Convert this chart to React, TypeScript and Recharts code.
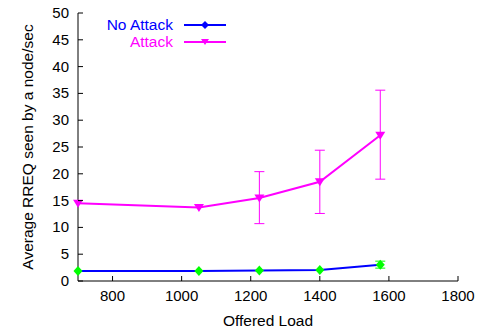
import { ComposedChart, Line, XAxis, YAxis, ErrorBar, Legend, Label } from "recharts";

const loads = [700, 1050, 1225, 1400, 1575];
const noAttack = [1.85, 1.85, 1.95, 2.05, 3.05];
const noAttackLow = [null, null, null, null, 2.4];
const noAttackHigh = [null, null, null, null, 3.7];
const attack = [14.5, 13.7, 15.5, 18.5, 27.2];
const attackLow = [null, null, 10.7, 12.6, 19.0];
const attackHigh = [null, null, 20.4, 24.4, 35.6];
const xTicks = [800, 1000, 1200, 1400, 1600, 1800];
const yTicks = [0, 5, 10, 15, 20, 25, 30, 35, 40, 45, 50];

const err = (v: number, lo: number | null, hi: number | null) =>
  lo == null || hi == null ? undefined : [v - lo, hi - v];

const data = loads.map((load, i) => ({
  load,
  noAttack: noAttack[i],
  noAttackErr: err(noAttack[i], noAttackLow[i], noAttackHigh[i]),
  attack: attack[i],
  attackErr: err(attack[i], attackLow[i], attackHigh[i]),
}));

const FONT = "'Liberation Sans', Arial, sans-serif";

const LeftTick = (p: any) => (
  <g>
    <line x1={p.x} x2={p.x + 5} y1={p.y} y2={p.y} stroke="#000" />
    <text x={p.x - 9} y={p.y} dy={5} textAnchor="end" fontSize={15} fill="#000" fontFamily={FONT}>
      {p.payload.value}
    </text>
  </g>
);
const RightTick = (p: any) => <line x1={p.x} x2={p.x - 5} y1={p.y} y2={p.y} stroke="#000" />;
const BottomTick = (p: any) => (
  <g>
    <line x1={p.x} x2={p.x} y1={p.y} y2={p.y - 5} stroke="#000" />
    <text x={p.x} y={p.y} dy={20} textAnchor="middle" fontSize={15} fill="#000" fontFamily={FONT}>
      {p.payload.value}
    </text>
  </g>
);
const TopTick = (p: any) => <line x1={p.x} x2={p.x} y1={p.y} y2={p.y + 5} stroke="#000" />;

const Diamond = (p: any) => {
  const { cx, cy } = p;
  if (cx == null || cy == null) return null;
  return <path d={`M${cx},${cy - 5}L${cx + 4.5},${cy}L${cx},${cy + 5}L${cx - 4.5},${cy}Z`} fill="#00ff00" />;
};
const TriDown = (p: any) => {
  const { cx, cy } = p;
  if (cx == null || cy == null) return null;
  return <path d={`M${cx - 5},${cy - 3.5}L${cx + 5},${cy - 3.5}L${cx},${cy + 4.5}Z`} fill="#ff00ff" />;
};

const LegendBox = () => (
  <svg width={160} height={50} style={{ overflow: "visible" }}>
    <text x={95} y={30} textAnchor="end" fontSize={15.5} fill="#0000ff" fontFamily={FONT}>No Attack</text>
    <line x1={106} x2={148} y1={25} y2={25} stroke="#0000ff" strokeWidth={2} />
    <path d="M127,21L131,25L127,29L123,25Z" fill="#0000ff" />
    <text x={95} y={47} textAnchor="end" fontSize={15.5} fill="#ff00ff" fontFamily={FONT}>Attack</text>
    <line x1={106} x2={148} y1={42} y2={42} stroke="#ff00ff" strokeWidth={2} />
    <path d="M123,39L131,39L127,45Z" fill="#ff00ff" />
  </svg>
);

const YLabel = (p: any) => {
  const vb = p.viewBox;
  const cy = vb.y + vb.height / 2;
  const cx = 33;
  return (
    <text x={cx} y={cy} transform={`rotate(-90 ${cx} ${cy})`} textAnchor="middle" fontSize={15.5} fill="#000" fontFamily={FONT}>
      Average RREQ seen by a node/sec
    </text>
  );
};

export default function App() {
  return (
    <div style={{ position: "absolute", left: 0, top: 0, background: "#fff" }}>
      <ComposedChart width={482} height={330} data={data} margin={{ top: 13, right: 24, bottom: 0, left: 0 }}>
        <XAxis
          dataKey="load"
          type="number"
          domain={[700, 1800]}
          ticks={xTicks}
          height={49}
          tickSize={0}
          tickMargin={0}
          tickLine={false}
          tick={BottomTick}
          axisLine={{ stroke: "#000" }}
          interval={0}
        >
          <Label value="Offered Load" position="insideBottom" offset={4} fontSize={15.5} fill="#000" fontFamily={FONT} />
        </XAxis>
        <XAxis
          xAxisId="top"
          dataKey="load"
          type="number"
          orientation="top"
          domain={[700, 1800]}
          ticks={xTicks}
          height={0}
          tickSize={0}
          tickMargin={0}
          tickLine={false}
          tick={TopTick}
          axisLine={{ stroke: "#000" }}
          interval={0}
        />
        <YAxis
          type="number"
          domain={[0, 50]}
          ticks={yTicks}
          width={78}
          tickSize={0}
          tickMargin={0}
          tickLine={false}
          tick={LeftTick}
          axisLine={{ stroke: "#000" }}
          interval={0}
        >
          <Label content={YLabel} />
        </YAxis>
        <YAxis
          yAxisId="right"
          orientation="right"
          type="number"
          domain={[0, 50]}
          ticks={yTicks}
          width={0}
          tickSize={0}
          tickMargin={0}
          tickLine={false}
          tick={RightTick}
          axisLine={{ stroke: "#000" }}
          interval={0}
        />
        <Legend
          layout="horizontal"
          verticalAlign="middle"
          align="center"
          content={LegendBox}
          wrapperStyle={{ top: 0, left: 78, width: 160, height: 50 }}
        />
        <Line
          dataKey="noAttack"
          type="linear"
          stroke="#0000ff"
          strokeWidth={2}
          dot={Diamond}
          activeDot={false}
          isAnimationActive={false}
        >
          <ErrorBar dataKey="noAttackErr" direction="y" width={5} stroke="#00ff00" strokeWidth={1} />
        </Line>
        <Line
          dataKey="attack"
          type="linear"
          stroke="#ff00ff"
          strokeWidth={2}
          dot={TriDown}
          activeDot={false}
          isAnimationActive={false}
        >
          <ErrorBar dataKey="attackErr" direction="y" width={5} stroke="#ff00ff" strokeWidth={1} />
        </Line>
      </ComposedChart>
    </div>
  );
}
